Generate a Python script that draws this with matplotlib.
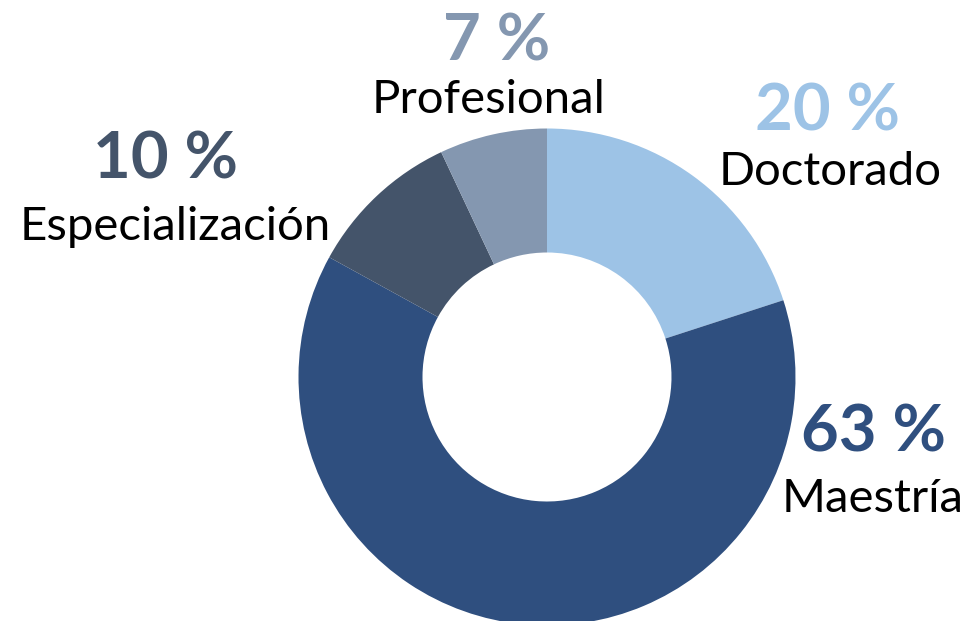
import matplotlib
matplotlib.use('Agg')
import matplotlib.pyplot as plt

# Data (clockwise from the top)
categories = ['Doctorado', 'Maestría', 'Especialización', 'Profesional']
shares = [20, 63, 10, 7]
colors = ['#9DC3E6', '#2F4F7F', '#44546A', '#8497B0']

W, H = 969, 621
fig = plt.figure(figsize=(W / 100, H / 100), dpi=100)
ax = fig.add_axes([0, 0, 1, 1])

# donut centered in pixel coordinates (y measured from bottom)
cx, cy = 547, H - 377
r_out, r_in = 248.5, 124.5
ax.pie(shares, colors=colors, startangle=90, counterclock=False,
       center=(cx, cy), radius=r_out,
       wedgeprops=dict(width=r_out - r_in, linewidth=0))

ax.set_xlim(0, W)
ax.set_ylim(0, H)
ax.set_aspect('equal')
ax.axis('off')

# label positions (pixel centres, from the top): percent line, then name
pct_pos = [(828, 112), (874, 433), (166, 160), (497, 42)]
name_pos = [(830, 172), (873, 499), (175, 227), (489, 100)]

for cat, val, col, (px, py), (nx, ny) in zip(categories, shares, colors, pct_pos, name_pos):
    ax.text(px, H - py, f'{val} %', color=col, fontsize=47, fontweight='bold',
            family='Lato', ha='center', va='center')
    ax.text(nx, H - ny, cat, color='black', fontsize=34,
            family='Lato', ha='center', va='center')

fig.savefig('out.png', dpi=100)
